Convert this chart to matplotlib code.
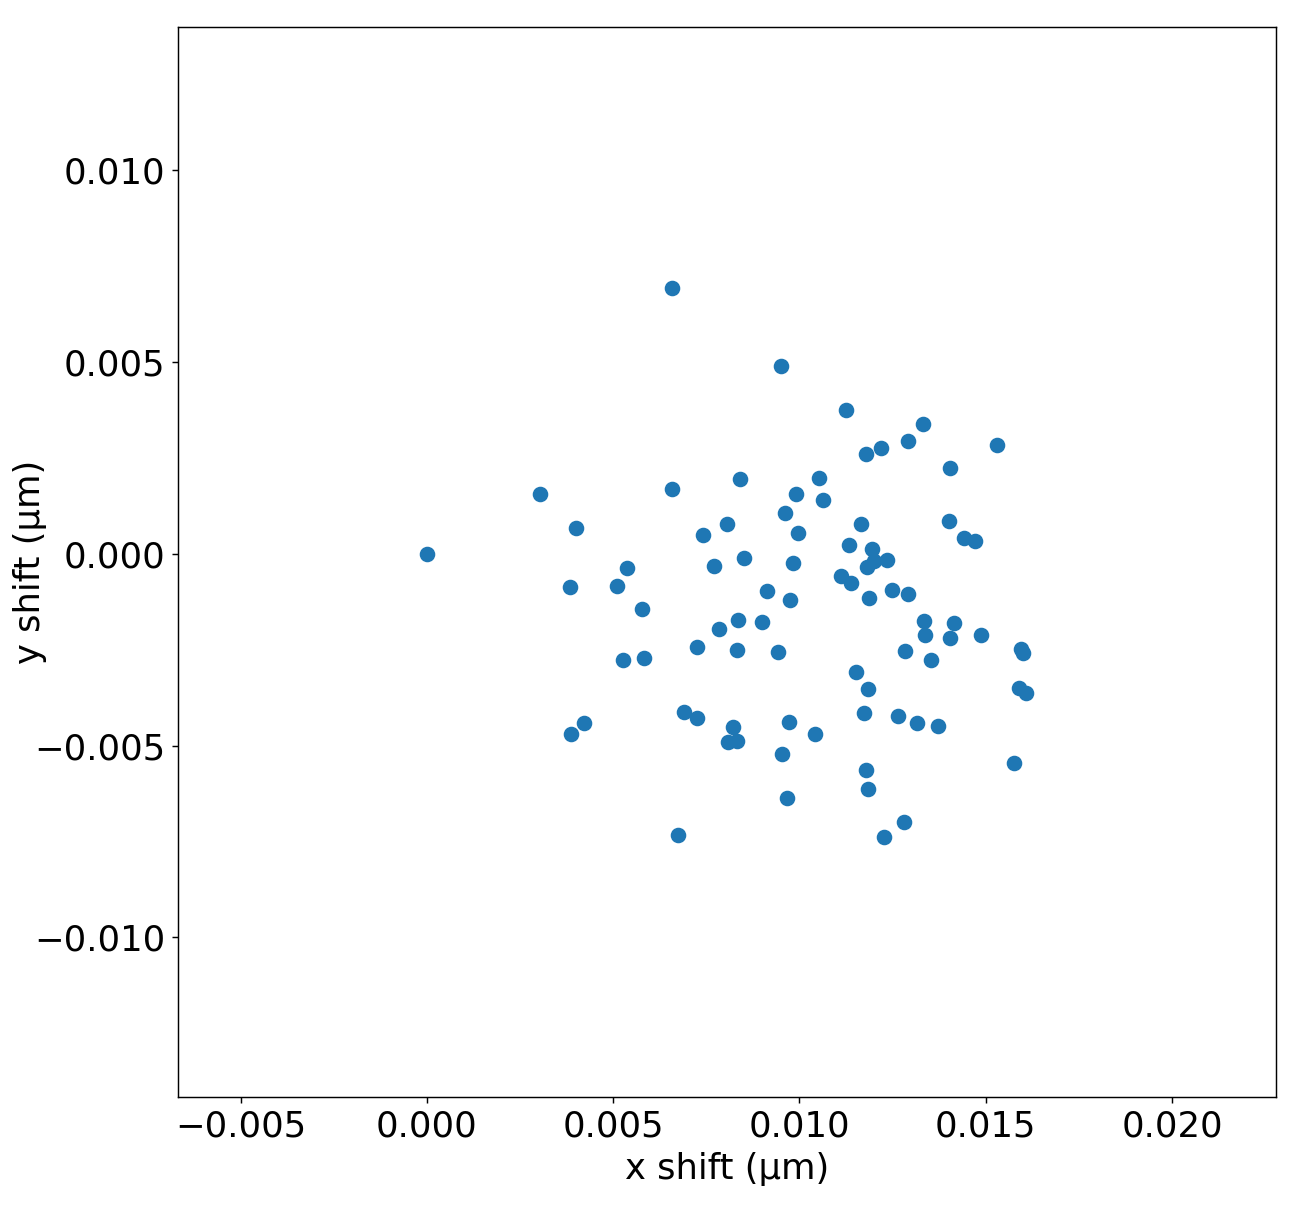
import matplotlib
matplotlib.use("Agg")
import matplotlib.pyplot as plt

x_shift = [0.0, 0.006575, 0.009501, 0.011245, 0.013312, 0.015298, 0.012909, 0.012185, 0.011782, 0.014037,
           0.003033, 0.006575, 0.008400, 0.010521, 0.009903, 0.010628, 0.009608, 0.003999, 0.008052, 0.007407,
           0.009957, 0.011648, 0.014010, 0.014412, 0.014708, 0.011326, 0.011943, 0.011997, 0.012346, 0.011809,
           0.008508, 0.009823, 0.005368, 0.007703, 0.011111, 0.011379, 0.003838, 0.005099, 0.009125, 0.012480,
           0.012909, 0.011863, 0.009742, 0.005770, 0.008347, 0.008991, 0.013339, 0.014144, 0.007837, 0.013366,
           0.014037, 0.014869, 0.007246, 0.008320, 0.009420, 0.012829, 0.015942, 0.015996, 0.005260, 0.005824,
           0.013527, 0.011514, 0.011836, 0.015888, 0.016076, 0.006898, 0.007246, 0.011728, 0.012641, 0.004214,
           0.013151, 0.009716, 0.013714, 0.008213, 0.003865, 0.010413, 0.008078, 0.008320, 0.009528, 0.011782,
           0.015754, 0.011836, 0.009662, 0.012802, 0.006736, 0.012265]
y_shift = [0.0, 0.006936, 0.004902, 0.003755, 0.003390, 0.002842, 0.002947, 0.002764, 0.002608, 0.002243,
           0.001565, 0.001695, 0.001956, 0.001982, 0.001565, 0.001408, 0.001069, 0.000678, 0.000782, 0.000495,
           0.000548, 0.000782, 0.000860, 0.000417, 0.000339, 0.000235, 0.000130, -0.000183, -0.000156, -0.000339,
           -0.000104, -0.000235, -0.000365, -0.000313, -0.000574, -0.000756, -0.000860, -0.000834, -0.000965, -0.000939,
           -0.001043, -0.001147, -0.001199, -0.001434, -0.001721, -0.001773, -0.001747, -0.001799, -0.001956, -0.002112,
           -0.002190, -0.002112, -0.002425, -0.002503, -0.002555, -0.002529, -0.002477, -0.002581, -0.002764, -0.002712,
           -0.002764, -0.003077, -0.003520, -0.003494, -0.003625, -0.004120, -0.004276, -0.004146, -0.004224, -0.004407,
           -0.004407, -0.004381, -0.004485, -0.004511, -0.004694, -0.004694, -0.004902, -0.004876, -0.005215, -0.005632,
           -0.005450, -0.006128, -0.006362, -0.006988, -0.007327, -0.007379]

fig = plt.figure(figsize=(10, 1215 / 130), dpi=130)
ax = fig.add_axes([178 / 1300, 1 - 1097 / 1215, (1276 - 178) / 1300, (1097 - 27) / 1215])
ax.scatter(x_shift, y_shift, s=58, color="#1f77b4")
ax.set_xlim(-0.00668, 0.02279)
ax.set_ylim(-0.01416, 0.01374)
ax.set_xticks([-0.005, 0.0, 0.005, 0.010, 0.015, 0.020])
ax.set_yticks([-0.010, -0.005, 0.0, 0.005, 0.010])
ax.tick_params(labelsize=19.6)
ax.set_xlabel("x shift (µm)", fontsize=19.6)
ax.set_ylabel("y shift (µm)", fontsize=19.6)
ax.xaxis.set_label_coords((727 - 178) / 1098, -(1169 - 1097) / 1070)
ax.yaxis.set_label_coords((30 - 178) / 1098, (1097 - 562) / 1070)
ax.xaxis.label.set_va("center")
ax.yaxis.label.set_va("center")
fig.savefig("out.png", dpi=130)
